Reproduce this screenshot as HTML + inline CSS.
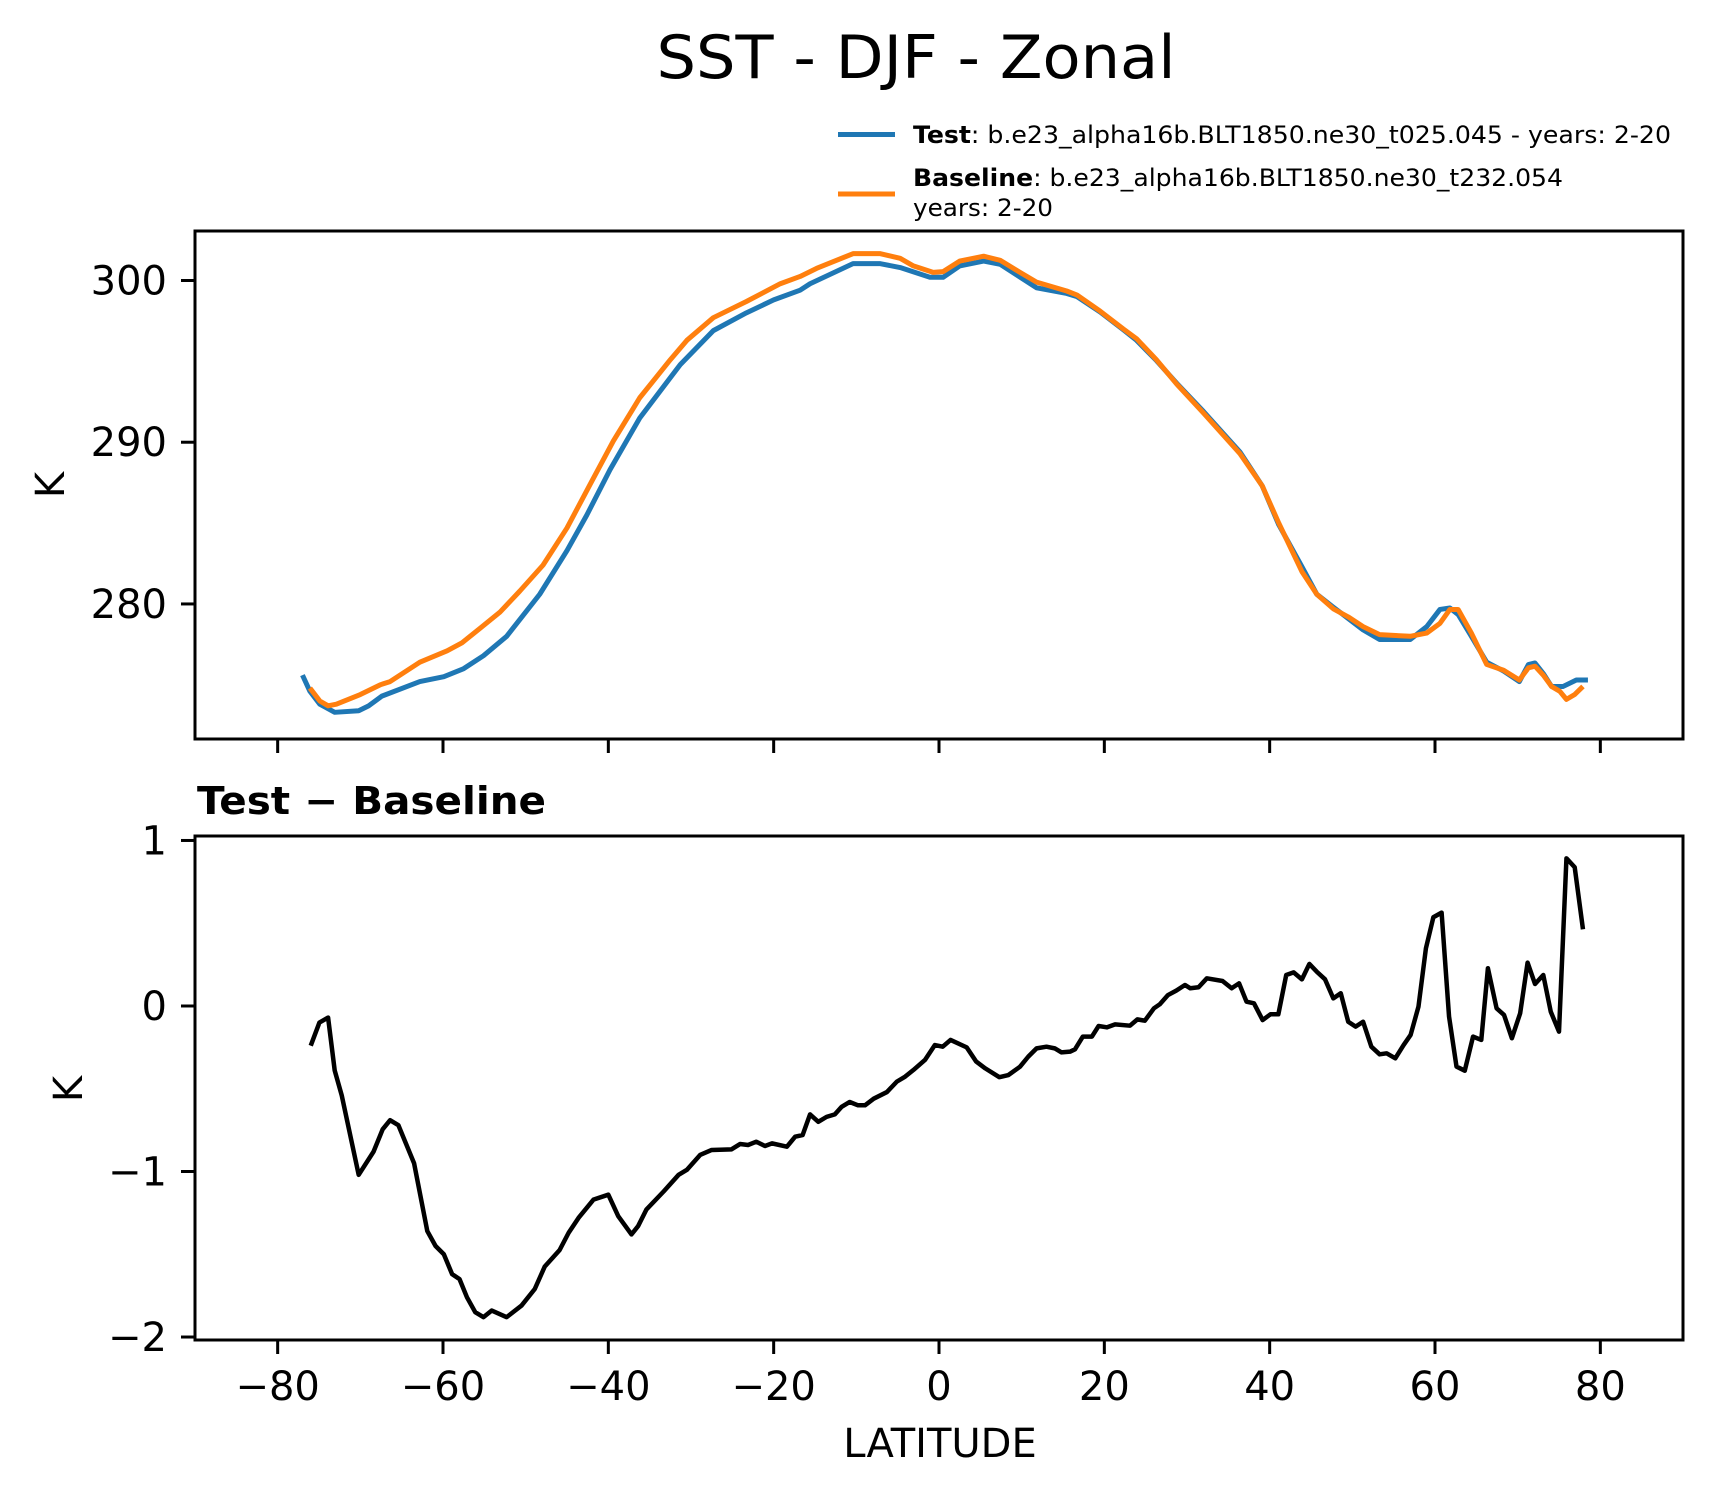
<!DOCTYPE html>
<html><head><meta charset="utf-8">
<style>
html,body{margin:0;padding:0;background:#fff;}
svg{display:block;font-family:"DejaVu Sans","Liberation Sans",sans-serif;}
</style></head>
<body>
<svg id="fig" width="1713" height="1496" viewBox="0 0 1713 1496" xmlns="http://www.w3.org/2000/svg">
<rect width="1713" height="1496" fill="#fff"/>
<text x="916" y="78" font-size="60" text-anchor="middle" textLength="519" lengthAdjust="spacingAndGlyphs">SST - DJF - Zonal</text>
<g>
  <line x1="838" y1="134.5" x2="895" y2="134.5" stroke="#1f77b4" stroke-width="5"/>
  <text x="913" y="143" font-size="24" textLength="758" lengthAdjust="spacingAndGlyphs"><tspan font-weight="bold">Test</tspan>: b.e23_alpha16b.BLT1850.ne30_t025.045 - years: 2-20</text>
  <line x1="838" y1="194" x2="895" y2="194" stroke="#ff7f0e" stroke-width="5"/>
  <text x="913" y="186" font-size="24" textLength="650" lengthAdjust="spacingAndGlyphs"><tspan font-weight="bold">Baseline</tspan>: b.e23_alpha16b.BLT1850.ne30_t232.054</text>
  <text x="913" y="216" font-size="24" textLength="140" lengthAdjust="spacingAndGlyphs">years: 2-20</text>
</g>
<g id="top"></g>
<g id="bot"></g>
<text x="197" y="814" font-size="38" font-weight="bold" textLength="349" lengthAdjust="spacingAndGlyphs">Test − Baseline</text>
<text transform="translate(64,485) rotate(-90)" font-size="40" text-anchor="middle">K</text>
<text transform="translate(82,1089) rotate(-90)" font-size="40" text-anchor="middle">K</text>
<text x="940" y="1457" font-size="40" text-anchor="middle">LATITUDE</text>
</svg>
<script>
const xTicks = [-80,-60,-40,-20,0,20,40,60,80];
const xTickLabels = ["−80","−60","−40","−20","0","20","40","60","80"];
const topYTicks = [280,290,300];
const topYTickLabels = ["280","290","300"];
const botYTicks = [-2,-1,0,1];
const botYTickLabels = ["−2","−1","0","1"];

const baseLat = [-76.1,-74.9,-73.9,-72.9,-70.0,-67.6,-66.4,-62.8,-59.5,-57.7,-55.5,-53.1,-50.7,-47.9,-45.0,-42.2,-39.4,-36.2,-32.5,-30.5,-27.3,-23.3,-19.2,-16.8,-14.8,-10.4,-7.1,-4.7,-3.1,-0.7,0.5,2.5,5.4,7.4,9.8,11.8,15.45,16.7,19.5,22.3,23.9,26.3,28.75,32.0,36.4,39.1,41.1,43.9,45.7,47.7,49.5,51.3,53.3,57.0,59.0,60.6,61.8,62.8,64.4,66.25,68.3,70.2,71.3,72.1,73.1,74.1,75.1,75.9,76.9,77.9];
const baseVal = [274.8,274.0,273.7,273.8,274.4,275.0,275.2,276.4,277.1,277.6,278.5,279.5,280.8,282.4,284.7,287.4,290.07,292.75,295.1,296.3,297.7,298.7,299.8,300.25,300.75,301.66,301.66,301.37,300.9,300.5,300.55,301.2,301.5,301.25,300.5,299.9,299.35,299.1,298.1,297.0,296.4,295.1,293.6,291.8,289.3,287.3,285.0,282.0,280.6,279.7,279.2,278.6,278.1,278.0,278.2,278.8,279.66,279.66,278.2,276.26,275.9,275.3,276.05,276.15,275.6,274.9,274.6,274.1,274.4,274.9];

const testLat = [-77.0,-76.1,-74.9,-73.1,-70.2,-69.0,-67.4,-62.8,-59.9,-57.5,-55.1,-52.3,-48.3,-45.0,-42.6,-39.8,-36.2,-31.3,-27.3,-23.3,-20.0,-16.8,-15.6,-10.4,-7.1,-4.7,-1.1,0.5,2.5,5.4,7.4,11.8,15.45,16.7,19.5,22.3,23.9,26.3,28.75,32.0,36.4,39.1,41.1,43.9,45.7,47.7,49.5,51.3,53.3,57.0,59.0,60.6,61.8,62.8,64.4,66.25,68.3,70.2,71.3,72.1,73.1,74.1,75.5,77.1,78.5];
const testVal = [275.6,274.6,273.8,273.3,273.4,273.7,274.3,275.2,275.5,276.0,276.8,278.0,280.6,283.3,285.5,288.3,291.5,294.8,296.9,298.0,298.8,299.4,299.8,301.04,301.04,300.8,300.2,300.2,300.9,301.2,301.0,299.55,299.2,299.0,298.05,296.95,296.3,295.05,293.65,291.9,289.4,287.3,284.9,282.3,280.6,279.8,279.1,278.4,277.8,277.8,278.6,279.66,279.75,279.35,278.0,276.4,275.85,275.2,276.25,276.35,275.7,274.9,274.9,275.3,275.3];

const diffLat = [-76.0,-74.95,-73.9,-73.1,-72.25,-70.2,-68.4,-67.3,-66.4,-65.4,-63.5,-61.9,-60.9,-59.9,-58.9,-58.0,-57.1,-56.1,-55.1,-54.1,-52.3,-50.5,-48.9,-47.7,-45.9,-44.8,-43.6,-41.8,-40.0,-38.8,-37.2,-36.4,-35.4,-33.3,-31.5,-30.5,-28.9,-27.5,-25.1,-24.07,-23.1,-22.1,-21.05,-20.2,-18.4,-17.4,-16.5,-15.6,-14.6,-13.6,-12.6,-11.8,-10.8,-9.8,-8.95,-7.9,-6.3,-5.1,-4.1,-3.1,-1.7,-0.5,0.45,1.4,3.35,4.5,5.6,7.3,8.4,9.8,10.8,11.8,13.0,14.0,14.8,15.85,16.45,17.4,18.5,19.3,20.3,21.3,23.1,24.0,24.9,26.0,26.7,27.7,28.7,29.75,30.4,31.4,32.4,34.3,35.4,36.3,37.2,38.1,39.15,40.1,41.05,42.0,42.9,43.9,44.8,45.7,46.7,47.7,48.6,49.5,50.4,51.3,52.3,53.3,54.15,55.2,56.2,57.05,58.0,58.9,59.8,60.8,61.7,62.6,63.6,64.6,65.6,66.4,67.45,68.35,69.3,70.3,71.2,72.1,73.1,74.0,75.0,75.9,76.9,77.9];
const diffVal = [-0.24,-0.10,-0.07,-0.39,-0.54,-1.02,-0.88,-0.745,-0.69,-0.72,-0.95,-1.36,-1.45,-1.50,-1.62,-1.65,-1.76,-1.85,-1.88,-1.84,-1.88,-1.81,-1.71,-1.575,-1.475,-1.37,-1.28,-1.17,-1.14,-1.27,-1.38,-1.33,-1.23,-1.12,-1.02,-0.99,-0.90,-0.87,-0.866,-0.834,-0.84,-0.82,-0.846,-0.83,-0.85,-0.79,-0.78,-0.655,-0.70,-0.67,-0.655,-0.61,-0.58,-0.60,-0.60,-0.56,-0.52,-0.457,-0.427,-0.387,-0.326,-0.236,-0.246,-0.205,-0.25,-0.336,-0.377,-0.43,-0.417,-0.367,-0.306,-0.256,-0.246,-0.256,-0.28,-0.276,-0.262,-0.185,-0.185,-0.121,-0.129,-0.111,-0.119,-0.081,-0.089,-0.014,0.010,0.066,0.093,0.127,0.107,0.113,0.167,0.151,0.107,0.137,0.026,0.016,-0.085,-0.050,-0.050,0.187,0.203,0.161,0.254,0.207,0.161,0.046,0.077,-0.095,-0.125,-0.095,-0.246,-0.292,-0.286,-0.316,-0.236,-0.175,-0.004,0.348,0.536,0.564,-0.064,-0.366,-0.391,-0.185,-0.205,0.228,-0.014,-0.054,-0.195,-0.044,0.262,0.133,0.187,-0.034,-0.155,0.892,0.838,0.463];

const NS = "http://www.w3.org/2000/svg";
const AX_L = 195, AX_R = 1683;
function xScale(lat){ return AX_L + (lat + 90) / 180 * (AX_R - AX_L); }
function topY(v){ return 231 + (303.06 - v) / (303.06 - 271.65) * (739 - 231); }
function botY(v){ return 836 + (1.027 - v) / (1.027 + 2.018) * (1340 - 836); }

function mk(tag, attrs, parent){
  const e = document.createElementNS(NS, tag);
  for (const k in attrs) e.setAttribute(k, attrs[k]);
  parent.appendChild(e);
  return e;
}

function drawPanel(g, top, bottom, yfn, yticks, ylabels, showXLabels, prefix){
  const frame = mk('rect', {x:AX_L, y:top, width:AX_R-AX_L, height:bottom-top, fill:'none', stroke:'#000', 'stroke-width':3}, g);
  
  
  xTicks.forEach((t, i) => {
    const x = xScale(t);
    const tk = mk('line', {x1:x, x2:x, y1:bottom, y2:bottom+14, stroke:'#000', 'stroke-width':3}, g);
    
    
    if (showXLabels){
      const tl = mk('text', {x:x, y:bottom+60, 'font-size':40, 'text-anchor':'middle'}, g);
      tl.textContent = xTickLabels[i];
      
      
    }
  });
  yticks.forEach((t, i) => {
    const y = yfn(t);
    const tk = mk('line', {x1:AX_L-14, x2:AX_L, y1:y, y2:y, stroke:'#000', 'stroke-width':3}, g);
    
    
    const tl = mk('text', {x:AX_L-28, y:y+14, 'font-size':40, 'text-anchor':'end'}, g);
    tl.textContent = ylabels[i];
    
    
  });
}

function drawLine(g, lats, vals, yfn, color, w, name){
  const d = lats.map((la, i) => (i ? 'L' : 'M') + xScale(la).toFixed(2) + ' ' + yfn(vals[i]).toFixed(2)).join(' ');
  const p = mk('path', {d:d, fill:'none', stroke:color, 'stroke-width':w, 'stroke-linejoin':'round'}, g);
  
  
}

const gt = document.getElementById('top');


drawPanel(gt, 231, 739, topY, topYTicks, topYTickLabels, false, 'top');
drawLine(gt, testLat, testVal, topY, '#1f77b4', 5, 'test-series-line');
drawLine(gt, baseLat, baseVal, topY, '#ff7f0e', 5, 'baseline-series-line');

const gb = document.getElementById('bot');


drawPanel(gb, 836, 1340, botY, botYTicks, botYTickLabels, true, 'diff');
drawLine(gb, diffLat, diffVal, botY, '#000', 4.5, 'difference-series-line');
</script>
</body></html>
